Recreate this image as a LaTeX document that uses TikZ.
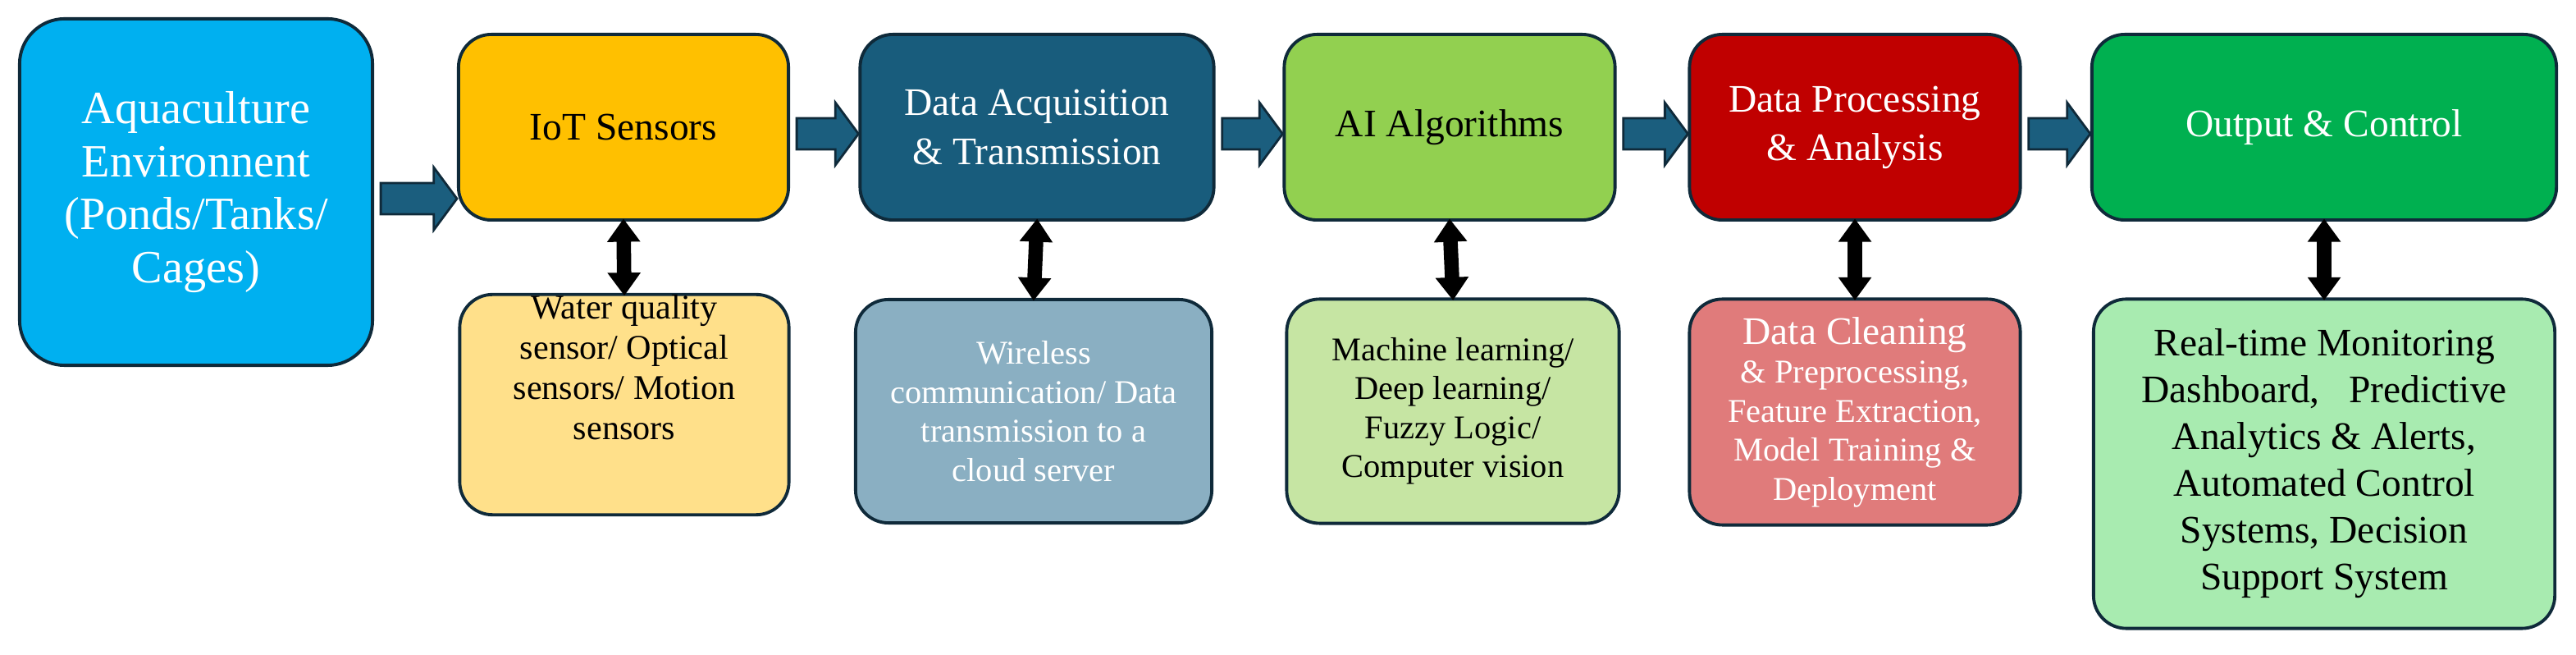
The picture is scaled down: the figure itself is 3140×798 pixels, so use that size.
\documentclass[tikz,border=0pt]{standalone}
\usepackage{fontspec}
\setmainfont{Liberation Serif}
\usetikzlibrary{arrows.meta,calc}
\definecolor{dark}{HTML}{0F2A3A}
\definecolor{arrowc}{HTML}{1B5E7E}
\definecolor{cAqua}{HTML}{00B0F0}
\definecolor{cIot}{HTML}{FFC000}
\definecolor{cAcq}{HTML}{185C7C}
\definecolor{cAI}{HTML}{92D050}
\definecolor{cDP}{HTML}{C00000}
\definecolor{cOut}{HTML}{00B050}
\definecolor{sIot}{HTML}{FFE08A}
\definecolor{sAcq}{HTML}{8AAFC2}
\definecolor{sAI}{HTML}{C6E5A3}
\definecolor{sDP}{HTML}{E07B7B}
\definecolor{sOut}{HTML}{A8EBB0}
\tikzset{
  box/.style={draw=dark, line width=1.1pt, rounded corners=0.4cm, inner sep=0pt, align=center},
  title/.style={box, font=\fontsize{13.5pt}{16.8pt}\selectfont},
  sub/.style={box, font=\fontsize{11.5pt}{13.5pt}\selectfont},
  dbl/.style={line width=5pt, draw=black, {Triangle[length=8pt,width=11pt]}-{Triangle[length=8pt,width=11pt]}, shorten <=-1pt, shorten >=-1pt},
  blockarrow/.style={fill=arrowc, draw=dark, line width=0.8pt}
}
\newcommand\barrow[2]{%
  \path let \p1=(#1.east), \p2=(#2.west) in
    [blockarrow] (\x1+2.3pt,\y1-2.3pt+5.4pt) -- (\x2-8pt,\y1-2.3pt+5.4pt) -- (\x2-8pt,\y1-2.3pt+10.8pt)
    -- (\x2,\y1-2.3pt) -- (\x2-8pt,\y1-2.3pt-10.8pt) -- (\x2-8pt,\y1-2.3pt-5.4pt) -- (\x1+2.3pt,\y1-2.3pt-5.4pt) -- cycle;}
\begin{document}
\begin{tikzpicture}[x=0.01cm,y=-0.01cm]
\useasboundingbox (0,0) rectangle (3140,798);
% main row
\node[box, rounded corners=0.55cm, fill=cAqua, text=white, minimum width=4.3cm, minimum height=4.22cm,
  font=\fontsize{16pt}{18.4pt}\selectfont] (aqua) at (239,234)
  {Aquaculture\\Environnent\\(Ponds/Tanks/\\Cages)};
\node[title, fill=cIot, minimum width=4.02cm, minimum height=2.26cm] (iot) at (760,155) {IoT Sensors};
\node[title, fill=cAcq, text=white, minimum width=4.31cm, minimum height=2.26cm] (acq) at (1264,155) {Data Acquisition\\\& Transmission};
\node[title, fill=cAI, minimum width=4.03cm, minimum height=2.26cm] (ai) at (1767,155) {AI Algorithms};
\node[title, fill=cDP, text=white, minimum width=4.03cm, minimum height=2.26cm] (dp) at (2261,155) {Data Processing\\\& Analysis};
\node[title, fill=cOut, text=white, minimum width=5.66cm, minimum height=2.26cm] (out) at (2833,155) {Output \& Control};
% sub row
\node[sub, fill=sIot, minimum width=4.01cm, minimum height=2.57cm, font=\fontsize{12pt}{14pt}\selectfont] (iots) at (761,493)
  {Water quality\\sensor/ Optical\\sensors/ Motion\\sensors\\[-2pt]\mbox{}\\\mbox{}};
\node[sub, fill=sAcq, text=white, minimum width=4.34cm, minimum height=2.72cm] (acqs) at (1260,501)
  {Wireless\\communication/ Data\\transmission to a\\cloud server};
\node[sub, fill=sAI, minimum width=4.05cm, minimum height=2.73cm] (ais) at (1771,501)
  {Machine learning/\\Deep learning/\\Fuzzy Logic/\\Computer vision};
\node[sub, fill=sDP, text=white, minimum width=4.03cm, minimum height=2.75cm] (dps) at (2261,502)
  {{\fontsize{13.5pt}{13.5pt}\selectfont Data Cleaning}\\\& Preprocessing,\\Feature Extraction,\\Model Training \&\\Deployment};
\node[sub, fill=sOut, minimum width=5.62cm, minimum height=4.01cm, font=\fontsize{13.5pt}{16.2pt}\selectfont] (outs) at (2833,565)
  {Real-time Monitoring\\Dashboard,\ \ \ Predictive\\Analytics \& Alerts,\\Automated Control\\Systems, Decision\\Support System};
% block arrows
\barrow{aqua}{iot}
\barrow{iot}{acq}
\barrow{acq}{ai}
\barrow{ai}{dp}
\barrow{dp}{out}
% double arrows
\draw[dbl] (iot.south) -- (iots.north);
\draw[dbl] (acq.south) -- (acqs.north);
\draw[dbl] (ai.south) -- (ais.north);
\draw[dbl] (dp.south) -- (dps.north);
\draw[dbl] (out.south) -- (outs.north);
\end{tikzpicture}
\end{document}
